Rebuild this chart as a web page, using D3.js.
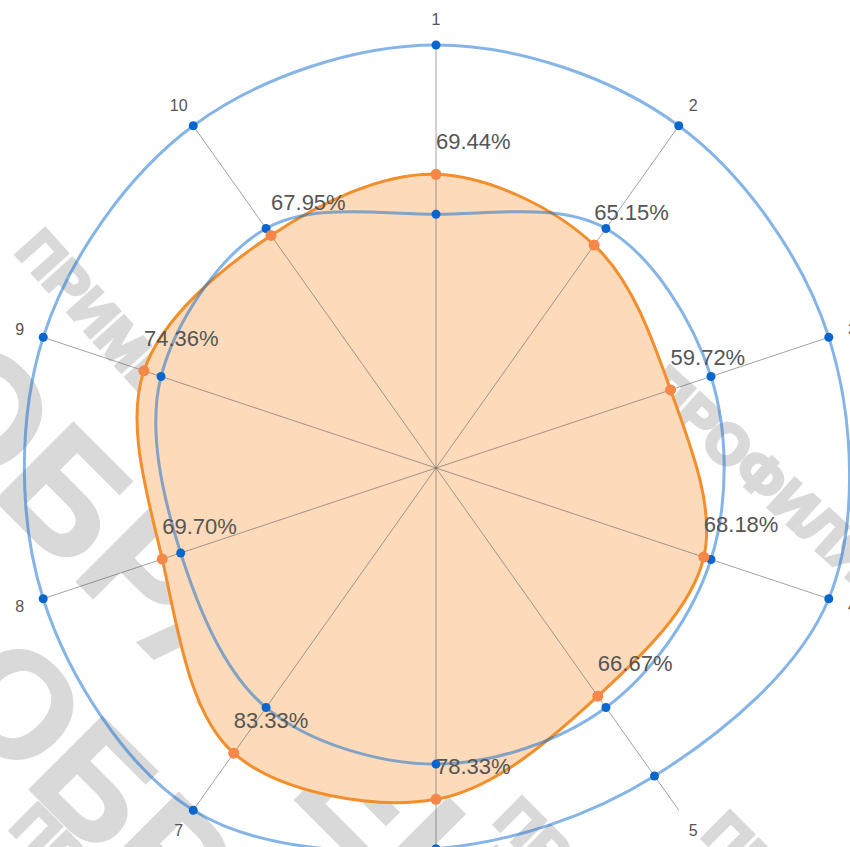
<!DOCTYPE html>
<html>
<head>
<meta charset="utf-8">
<script src="https://cdn.jsdelivr.net/npm/d3@7"></script>
<style>
  body { margin: 0; background: #fff; }
  svg { display: block; }
</style>
</head>
<body>
<svg id="chart" width="850" height="847"></svg>
<script>
// DATA
const axisLabels = ["1", "2", "3", "4", "5", "6", "7", "8", "9", "10"];
const scoreValues = [69.44, 65.15, 59.72, 68.18, 66.67, 78.33, 83.33, 69.7, 74.36, 67.95];
const innerValues = [60, 70, 70, 70, 70, 70, 70, 65, 70, 70];
const outerValues = [100, 100, 100, 100, 90, 90, 100, 100, 100, 100];
const watermarkWords = ["ПРИМЕР ПРОФИЛЯ", "ОБРАЗЕЦ"];

// CANVAS SETUP
const svg = d3.select("#chart");
const cx = 436,
  cy = 468;

const angle = d3
  .scaleBand()
  .domain(axisLabels)
  .range([0, 2 * Math.PI]);

// picture is a little taller than wide
const rx = d3.scaleLinear().domain([0, 100]).range([0, 413]);
const ry = d3.scaleLinear().domain([0, 100]).range([0, 423]);

const px = (k, v) => cx + rx(v) * Math.sin(angle(k));
const py = (k, v) => cy - ry(v) * Math.cos(angle(k));

const toPoints = (vals) =>
  vals.map((v, i) => ({ key: axisLabels[i], value: v }));

const radarLine = d3
  .line()
  .x((d) => px(d.key, d.value))
  .y((d) => py(d.key, d.value))
  .curve(d3.curveCatmullRomClosed.alpha(0.5));

// WATERMARK
const wm = svg
  .append("g")
  .attr("fill", "#d9d9d9")
  .attr("stroke", "#d9d9d9")
  .attr("font-family", "Liberation Sans, Arial, sans-serif")
  .attr("font-weight", "bold");

const marks = [
  { t: 0, x: 14, y: 252, r: 48, s: 56, w: 4 },
  { t: 0, x: 452, y: 222, r: 42, s: 56, w: 4 },
  { t: 1, x: -100, y: 405, r: 45, s: 160, w: 2 },
  { t: 1, x: -60, y: 700, r: 45, s: 150, w: 2 },
  { t: 0, x: 8, y: 828, r: 45, s: 56, w: 4 },
  { t: 0, x: 492, y: 822, r: 45, s: 56, w: 4 },
  { t: 0, x: 700, y: 836, r: 45, s: 56, w: 4 },
];

wm.selectAll("text")
  .data(marks)
  .join("text")
  .attr("transform", (d) => `translate(${d.x},${d.y}) rotate(${d.r})`)
  .attr("font-size", (d) => d.s)
  .attr("stroke-width", (d) => d.w)
  .text((d) => watermarkWords[d.t]);

// RENDER
const score = toPoints(scoreValues);
const inner = toPoints(innerValues);
const outer = toPoints(outerValues);

svg
  .append("path")
  .attr("d", radarLine(score))
  .attr("fill", "#fddab9")
  .attr("stroke", "none");

svg
  .append("g")
  .selectAll("line")
  .data(axisLabels)
  .join("line")
  .attr("x1", cx)
  .attr("y1", cy)
  .attr("x2", (d) => px(d, 100))
  .attr("y2", (d) => py(d, 100))
  .attr("stroke", "#666")
  .attr("stroke-width", 1)
  .attr("stroke-opacity", 0.6);

svg
  .append("path")
  .attr("d", radarLine(score))
  .attr("fill", "none")
  .attr("stroke", "#f28e2b")
  .attr("stroke-width", 3);

[outer, inner].forEach((ser) => {
  svg
    .append("path")
    .attr("d", radarLine(ser))
    .attr("fill", "none")
    .attr("stroke", "#0b6bcf")
    .attr("stroke-opacity", 0.5)
    .attr("stroke-width", 3);
});

[outer, inner].forEach((ser) => {
  svg
    .append("g")
    .selectAll("circle")
    .data(ser)
    .join("circle")
    .attr("cx", (d) => px(d.key, d.value))
    .attr("cy", (d) => py(d.key, d.value))
    .attr("r", 4.5)
    .attr("fill", "#0a66cc");
});

svg
  .append("g")
  .selectAll("circle")
  .data(score)
  .join("circle")
  .attr("cx", (d) => px(d.key, d.value))
  .attr("cy", (d) => py(d.key, d.value))
  .attr("r", 5.5)
  .attr("fill", "#f5874a");

svg
  .append("g")
  .attr("font-family", "Liberation Sans, Arial, sans-serif")
  .attr("font-size", 22)
  .attr("fill", "#555")
  .selectAll("text")
  .data(score)
  .join("text")
  .attr("x", (d) => px(d.key, d.value))
  .attr("y", (d) => py(d.key, d.value) - 25)
  .text((d) => d.value.toFixed(2) + "%");

svg
  .append("g")
  .attr("font-family", "Liberation Sans, Arial, sans-serif")
  .attr("font-size", 16)
  .attr("fill", "#555")
  .attr("text-anchor", "middle")
  .attr("dominant-baseline", "central")
  .selectAll("text")
  .data(axisLabels)
  .join("text")
  .attr("x", (d) => px(d, 106))
  .attr("y", (d) => py(d, 106))
  .text((d) => d);
</script>
</body>
</html>
